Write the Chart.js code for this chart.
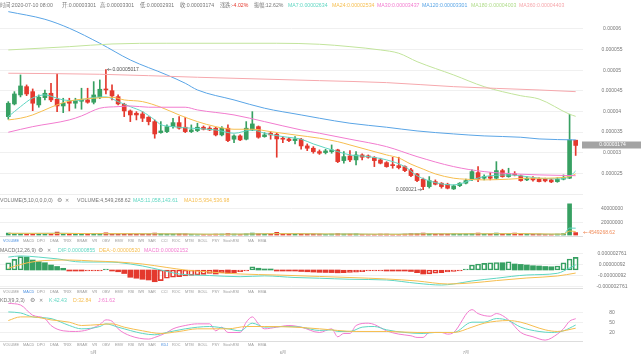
<!DOCTYPE html>
<html><head><meta charset="utf-8">
<script src="https://cdn.jsdelivr.net/npm/chart.js"></script>
<style>
html,body{margin:0;padding:0;background:#fff;}
#root{position:relative;width:641px;height:357px;overflow:hidden;font-family:"Liberation Sans","Noto Sans CJK SC",sans-serif;}
.t{position:absolute;font-size:5.2px;line-height:6px;white-space:nowrap;color:#777;}
.tab{position:absolute;font-size:3.8px;line-height:5px;white-space:nowrap;color:#9a9a9a;}
.pane{position:absolute;left:0;}
.sep{position:absolute;left:0;width:583px;height:1px;}
canvas{display:block;}
</style></head><body><div id="root">
<div class="pane" style="top:0"><canvas id="cMain" width="641" height="196"></canvas></div>
<div class="pane" style="top:201px"><canvas id="cVol" width="641" height="36"></canvas></div>
<div class="pane" style="top:251px"><canvas id="cMacd" width="641" height="38"></canvas></div>
<div class="pane" style="top:301px"><canvas id="cKdj" width="641" height="56"></canvas></div>
<div class="sep" style="top:194px;background:#eeeeee"></div>
<div class="sep" style="top:236px;background:#dddddd"></div>
<div class="sep" style="top:288px;background:#dddddd"></div>
<div class="sep" style="top:341px;background:#dddddd"></div>
</div>
<script>
// ---------- DATA ----------
const monthLabels = ['5月','6月','7月'];
const monthStarts = [14,45,75];

const open = [3873e-8,4181e-8,4399e-8,4600e-8,4479e-8,4157e-8,4334e-8,4440e-8,4295e-8,4132e-8,
4254e-8,4198e-8,4246e-8,4278e-8,4222e-8,4343e-8,4537e-8,4503e-8,4358e-8,4174e-8,
4011e-8,3955e-8,3938e-8,3858e-8,3752e-8,3485e-8,3509e-8,3630e-8,3727e-8,3616e-8,
3509e-8,3533e-8,3616e-8,3592e-8,3592e-8,3429e-8,3592e-8,3325e-8,3405e-8,3325e-8,
3550e-8,3630e-8,3388e-8,3470e-8,3446e-8,3349e-8,3332e-8,3291e-8,3325e-8,3162e-8,
3106e-8,3024e-8,3000e-8,3024e-8,3065e-8,2806e-8,2920e-8,2823e-8,2944e-8,2920e-8,
2878e-8,2823e-8,2757e-8,2701e-8,2684e-8,2660e-8,2580e-8,2483e-8,2355e-8,2175e-8,
2296e-8,2258e-8,2233e-8,2119e-8,2199e-8,2258e-8,2355e-8,2515e-8,2379e-8,2418e-8,
2379e-8,2563e-8,2418e-8,2483e-8,2435e-8,2338e-8,2379e-8,2355e-8,2355e-8,2338e-8,
2296e-8,2355e-8,2380e-8,3301e-8];
const high = [4237e-8,4479e-8,4884e-8,4642e-8,4545e-8,4399e-8,4520e-8,4683e-8,4909e-8,4319e-8,
4319e-8,4319e-8,4562e-8,4562e-8,4722e-8,4763e-8,5017e-8,4642e-8,4399e-8,4198e-8,
4035e-8,3994e-8,3994e-8,3873e-8,3793e-8,3752e-8,3672e-8,3834e-8,3873e-8,3858e-8,
3672e-8,3713e-8,3647e-8,3630e-8,3616e-8,3630e-8,3672e-8,3429e-8,3429e-8,3752e-8,
3994e-8,3647e-8,3485e-8,3509e-8,3470e-8,3388e-8,3373e-8,3388e-8,3349e-8,3211e-8,
3145e-8,3065e-8,3082e-8,3186e-8,3082e-8,3024e-8,3048e-8,3024e-8,2968e-8,2944e-8,
2903e-8,2864e-8,2781e-8,2888e-8,2888e-8,2677e-8,2621e-8,2500e-8,2379e-8,2418e-8,
2338e-8,2272e-8,2258e-8,2216e-8,2272e-8,2355e-8,2580e-8,2660e-8,2459e-8,2515e-8,
2781e-8,2597e-8,2621e-8,2539e-8,2459e-8,2418e-8,2418e-8,2386e-8,2380e-8,2360e-8,
2390e-8,2459e-8,3931e-8,3301e-8];
const low = [3810e-8,4157e-8,4351e-8,4382e-8,4018e-8,4101e-8,4278e-8,4237e-8,3994e-8,3970e-8,
4011e-8,4077e-8,4052e-8,4198e-8,4181e-8,4309e-8,4423e-8,4278e-8,4157e-8,3873e-8,
3752e-8,3793e-8,3752e-8,3672e-8,3349e-8,3470e-8,3485e-8,3592e-8,3567e-8,3485e-8,
3485e-8,3509e-8,3550e-8,3533e-8,3405e-8,3405e-8,3266e-8,3242e-8,3291e-8,3308e-8,
3533e-8,3349e-8,3373e-8,3325e-8,2888e-8,3242e-8,3266e-8,3211e-8,3082e-8,3048e-8,
2985e-8,2956e-8,2968e-8,2985e-8,2757e-8,2743e-8,2781e-8,2701e-8,2823e-8,2864e-8,
2660e-8,2726e-8,2645e-8,2621e-8,2604e-8,2539e-8,2418e-8,2296e-8,2100e-8,2140e-8,
2216e-8,2136e-8,2119e-8,2105e-8,2175e-8,2241e-8,2321e-8,2296e-8,2338e-8,2338e-8,
2355e-8,2403e-8,2403e-8,2435e-8,2306e-8,2321e-8,2306e-8,2290e-8,2290e-8,2270e-8,
2280e-8,2338e-8,2370e-8,2931e-8];
const close = [4198e-8,4423e-8,4617e-8,4423e-8,4198e-8,4343e-8,4440e-8,4278e-8,4132e-8,4198e-8,
4198e-8,4261e-8,4278e-8,4222e-8,4399e-8,4537e-8,4520e-8,4375e-8,4181e-8,4011e-8,
3914e-8,3914e-8,3834e-8,3752e-8,3453e-8,3526e-8,3630e-8,3727e-8,3592e-8,3509e-8,
3550e-8,3616e-8,3567e-8,3550e-8,3429e-8,3592e-8,3291e-8,3405e-8,3308e-8,3592e-8,
3696e-8,3373e-8,3429e-8,3429e-8,3332e-8,3325e-8,3291e-8,3332e-8,3162e-8,3106e-8,
3024e-8,2985e-8,3041e-8,3065e-8,2781e-8,2903e-8,2823e-8,2944e-8,2888e-8,2888e-8,
2806e-8,2743e-8,2660e-8,2684e-8,2636e-8,2563e-8,2442e-8,2321e-8,2175e-8,2321e-8,
2233e-8,2175e-8,2136e-8,2192e-8,2258e-8,2321e-8,2539e-8,2355e-8,2418e-8,2379e-8,
2563e-8,2418e-8,2483e-8,2459e-8,2321e-8,2379e-8,2338e-8,2296e-8,2313e-8,2289e-8,
2355e-8,2393e-8,3307e-8,3174e-8];
const volume = [3.5e6,3.0e6,3.2e6,3.0e6,3.3e6,2.8e6,3.0e6,2.6e6,5.2e6,2.2e6,
2.5e6,2.0e6,2.4e6,2.2e6,2.8e6,3.0e6,4.0e6,2.6e6,2.5e6,3.0e6,
2.4e6,2.0e6,2.2e6,2.0e6,3.5e6,2.5e6,2.0e6,2.2e6,2.5e6,2.4e6,
1.8e6,1.5e6,1.6e6,1.4e6,2.0e6,2.2e6,2.8e6,2.0e6,1.8e6,2.5e6,
3.6e6,3.0e6,2.0e6,1.8e6,4.8e6,2.5e6,2.2e6,1.8e6,2.6e6,2.2e6,
2.4e6,2.0e6,1.8e6,2.0e6,2.8e6,2.2e6,2.0e6,2.4e6,1.6e6,1.2e6,
1.8e6,2.0e6,2.2e6,1.5e6,1.8e6,2.2e6,2.8e6,3.0e6,3.5e6,2.8e6,
2.2e6,2.0e6,2.2e6,2.5e6,2.2e6,2.4e6,3.2e6,3.6e6,2.2e6,2.0e6,
3.8e6,3.2e6,2.5e6,3.8e6,2.6e6,2.2e6,1.8e6,2.0e6,1.8e6,1.6e6,
2.0e6,2.8e6,47.7e6,4549268.62];

// moving-average lines: [candle index, value]
const ma7 = [[0,3873e-8],[2,4115e-8],[4,4326e-8],[6,4399e-8],[8,4319e-8],[9,4278e-8],[11,4261e-8],[14,4339e-8],[16,4351e-8],[18,4237e-8],[20,4115e-8],[22,3994e-8],[24,3793e-8],[25,3680e-8],[27,3630e-8],[30,3592e-8],[34,3550e-8],[37,3470e-8],[40,3550e-8],[42,3470e-8],[45,3388e-8],[48,3325e-8],[50,3211e-8],[54,3024e-8],[56,2944e-8],[59,2903e-8],[62,2823e-8],[65,2660e-8],[67,2440e-8],[70,2272e-8],[73,2216e-8],[76,2338e-8],[78,2418e-8],[82,2459e-8],[85,2418e-8],[87,2379e-8],[90,2362e-8],[92,2418e-8],[93,2556e-8]];
const ma24 = [[0,3793e-8],[2,3834e-8],[4,3914e-8],[7,4101e-8],[9,4210e-8],[11,4278e-8],[14,4319e-8],[17,4343e-8],[19,4278e-8],[22,4237e-8],[25,4101e-8],[28,3914e-8],[31,3752e-8],[34,3630e-8],[37,3567e-8],[40,3567e-8],[43,3509e-8],[47,3429e-8],[51,3349e-8],[54,3266e-8],[56,3186e-8],[59,3065e-8],[62,2944e-8],[64,2870e-8],[66,2720e-8],[68,2600e-8],[70,2483e-8],[73,2379e-8],[75,2355e-8],[78,2338e-8],[82,2355e-8],[85,2379e-8],[87,2379e-8],[92,2418e-8],[93,2483e-8]];
const ma30 = [[0,3494e-8],[4,3630e-8],[10,3793e-8],[12,3890e-8],[15,4077e-8],[18,4115e-8],[20,4132e-8],[23,4101e-8],[29,4101e-8],[31,4035e-8],[37,3914e-8],[42,3752e-8],[48,3550e-8],[51,3470e-8],[56,3325e-8],[62,3145e-8],[67,2903e-8],[73,2660e-8],[78,2539e-8],[84,2476e-8],[87,2459e-8],[93,2440e-8]];
const ma120 = [[0,6420e-8],[6,6235e-8],[10,6017e-8],[15,5653e-8],[20,5248e-8],[26,4884e-8],[29,4683e-8],[31,4520e-8],[37,4278e-8],[42,4077e-8],[48,3914e-8],[51,3834e-8],[56,3713e-8],[62,3616e-8],[67,3526e-8],[73,3453e-8],[78,3405e-8],[84,3373e-8],[87,3332e-8],[93,3308e-8]];
const ma180 = [[0,5491e-8],[10,5571e-8],[17,5636e-8],[26,5653e-8],[37,5653e-8],[44,5653e-8],[51,5629e-8],[56,5571e-8],[61,5491e-8],[64,5411e-8],[67,5207e-8],[73,4884e-8],[78,4600e-8],[84,4380e-8],[87,4300e-8],[92,3931e-8],[93,3880e-8]];
const ma360 = [[0,4926e-8],[15,4901e-8],[31,4828e-8],[51,4746e-8],[62,4698e-8],[73,4600e-8],[87,4520e-8],[93,4479e-8]];

const volMa5 = [[0,3.2e6],[4,3.1e6],[8,3.4e6],[12,3.0e6],[16,2.7e6],[20,2.7e6],[24,2.6e6],[28,2.5e6],[32,1.9e6],[36,1.9e6],[40,2.4e6],[44,3.0e6],[48,2.9e6],[52,2.1e6],[56,2.4e6],[60,1.8e6],[64,1.9e6],[68,2.7e6],[72,2.6e6],[76,2.5e6],[80,2.8e6],[84,3.0e6],[88,2.0e6],[91,2.0e6],[92,11.2e6],[93,11058143.61]];
const volMa10 = [[0,3.3e6],[9,3.2e6],[14,2.8e6],[19,2.8e6],[24,2.5e6],[29,2.3e6],[34,1.9e6],[39,2.2e6],[44,2.8e6],[49,2.6e6],[54,2.2e6],[59,2.1e6],[64,1.9e6],[69,2.5e6],[74,2.5e6],[79,2.6e6],[84,2.8e6],[89,2.2e6],[91,2.1e6],[92,6.7e6],[93,5954536.98]];

const macdHist = [12.4e-7,18.2e-7,22.7e-7,22.0e-7,17e-7,14.1e-7,12.4e-7,8.5e-7,6e-7,2.9e-7,
-1e-7,-1.5e-7,-1.5e-7,-1.2e-7,-1.0e-7,-0.5e-7,1.5e-7,-0.5e-7,-3e-7,-6e-7,
-12.4e-7,-14e-7,-15.8e-7,-17e-7,-20e-7,-18.2e-7,-14e-7,-12.4e-7,-11.4e-7,-10.2e-7,
-9.2e-7,-8.5e-7,-7.5e-7,-6.0e-7,-6.8e-7,-5.0e-7,-5.6e-7,-4.5e-7,-3.0e-7,-1.0e-7,
5.6e-7,3e-7,1.5e-7,0.5e-7,-0.5e-7,-1e-7,-1.2e-7,-1.5e-7,-2.5e-7,-3e-7,
-3.5e-7,-4e-7,-4.2e-7,-4.4e-7,-4.8e-7,-4.4e-7,-4e-7,-3.5e-7,-3e-7,-1e-7,
-0.9e-7,-0.8e-7,-1.0e-7,-1.2e-7,-1.3e-7,-1.5e-7,-2.5e-7,-4.6e-7,-6.8e-7,-6.5e-7,
-5.6e-7,-4.6e-7,-3.4e-7,-2.5e-7,-1.5e-7,1e-7,8.5e-7,10.2e-7,11.4e-7,12.4e-7,
12.8e-7,12.4e-7,14.1e-7,10.2e-7,9.5e-7,8.5e-7,7.3e-7,6.8e-7,6.0e-7,5.5e-7,
6.8e-7,12.4e-7,18.7e-7,21.5e-7];
const macdDif = [[0,22e-7],[2,24e-7],[5,22e-7],[8,19e-7],[12,13.6e-7],[16,13.6e-7],[18,12.8e-7],[22,6.8e-7],[25,0],[28,-6.8e-7],[33,-9.4e-7],[38,-11.4e-7],[42,-10e-7],[47,-12.8e-7],[51,-14e-7],[56,-15.8e-7],[62,-17e-7],[67,-22.7e-7],[71,-25.6e-7],[73,-23.8e-7],[76,-18.7e-7],[80,-14e-7],[85,-8.5e-7],[90,-5.6e-7],[92,3.4e-7],[93,8.55e-7]];
const macdDea = [[0,2.9e-7],[3,12e-7],[6,16.2e-7],[10,17e-7],[14,15.3e-7],[18,13.6e-7],[22,10.2e-7],[26,4.3e-7],[29,0],[33,-3.4e-7],[38,-6.8e-7],[44,-8.5e-7],[51,-11e-7],[56,-12.8e-7],[62,-15.3e-7],[67,-18.7e-7],[72,-23.8e-7],[76,-22e-7],[80,-18e-7],[85,-13.6e-7],[90,-10.2e-7],[93,-5.2e-7]];

const kdjK = [[0,82],[2,79],[4,67],[7,62],[10,41],[12,31],[15,38],[16,46],[18,36],[22,17],[24,13],[26,20],[29,31],[33,38],[36,31],[38,25],[40,48],[42,36],[45,38],[48,36],[51,26],[53,28],[54,23],[56,23],[58,36],[60,38],[62,28],[65,20],[68,17],[70,20],[73,20],[76,51],[78,51],[80,62],[82,56],[84,36],[87,23],[89,20],[91,25],[93,42.43]];
const kdjD = [[0,56],[2,67],[4,67],[7,58],[10,51],[12,41],[15,44],[17,46],[19,36],[22,25],[25,17],[28,23],[31,31],[36,31],[39,38],[42,38],[47,36],[51,31],[57,23],[62,23],[67,20],[73,20],[76,36],[78,48],[82,56],[84,51],[88,28],[90,23],[93,32.84]];
const kdjJ = [[0,108],[2,103],[4,72],[6,62],[7,41],[9,25],[11,23],[13,28],[15,44],[16,58],[17,54],[18,31],[20,10],[23,0],[24,5],[26,20],[27,31],[29,41],[31,46],[33,46],[34,25],[35,36],[36,20],[38,20],[39,51],[40,67],[41,46],[42,31],[44,36],[46,41],[48,36],[51,20],[53,31],[54,7],[55,17],[56,17],[57,41],[59,48],[60,44],[62,25],[64,15],[66,10],[67,5],[68,5],[69,20],[71,20],[72,15],[73,20],[76,89],[77,77],[79,69],[80,77],[82,58],[84,20],[86,7],[88,-3],[90,15],[91,31],[92,54],[93,61.62]];

const priceTicks = [0.000025,0.00003,0.000035,0.00004,0.000045,0.00005,0.000055,0.00006];
const priceTickLabels = ['0.000025','0.00003','0.000035','0.00004','0.000045','0.00005','0.000055','0.00006'];
const volTicks = [20000000,40000000];
const volTickLabels = ['20000000','40000000'];
const macdTicks = [-2.761e-6,-0.92e-6,0.92e-6,2.761e-6];
const macdTickLabels = ['-0.000002761','-0.00000092','0.00000092','0.000002761'];
const kdjTicks = [20,50,80];
const kdjTickLabels = ['20','50','80'];

// ---------- STYLE ----------
const FONT='"Liberation Sans","Noto Sans CJK SC",sans-serif';
const GREEN='#37a062', RED='#e4392e';
const C7='#5fd6c2', C24='#f6be4f', C30='#f27ccf', C120='#5aa5e6', C180='#c2e49c', C360='#f6a8ad';
Chart.defaults.font.family=FONT;
Chart.defaults.font.size=5;
Chart.defaults.color='#777';
Chart.defaults.animation=false;
Chart.defaults.events=[];
Chart.defaults.plugins.legend.display=false;
Chart.defaults.plugins.tooltip.enabled=false;

const candleColor = close.map((c,i)=> c>=open[i] ? GREEN : RED);
const xAxis = () => ({type:'linear', min:-1.36, max:94.2, display:false, offset:false, grid:{display:false}});
function yAxis(min,max,ticks,labels,pad){
  return {position:'right', min, max, offset:false,
    grid:{color:'#f0f0f0', drawTicks:false}, border:{display:false},
    ticks:{padding:pad, crossAlign:'center', autoSkip:false, color:'#777', font:{size:5}, callback:(v,i)=>labels[i]},
    afterBuildTicks:s=>{s.ticks=ticks.map(v=>({value:v}));},
    afterFit:s=>{s.width=58; s.paddingTop=0; s.paddingBottom=0;}};
}
const line = (pairs,color,order=0)=>({type:'line', data:pairs.map(([x,y])=>({x,y})), borderColor:color, borderWidth:1, pointRadius:0, cubicInterpolationMode:'monotone', fill:false, order});

// ---------- MAIN ----------
const mainDeco = {id:'mainDeco', afterDatasetsDraw(chart){
  const {ctx, scales:{x,y}} = chart;
  let hi=0, lo=0, last=close.length-1;
  high.forEach((v,i)=>{if(v>high[hi]) hi=i;});
  low.forEach((v,i)=>{if(v<low[lo]) lo=i;});
  ctx.save();
  ctx.font='5px '+FONT; ctx.textBaseline='middle';
  ctx.fillStyle='#555'; ctx.strokeStyle='#555'; ctx.lineWidth=0.6;
  let px=x.getPixelForValue(hi), py=y.getPixelForValue(high[hi]);
  ctx.beginPath(); ctx.moveTo(px+1.5,py); ctx.lineTo(px+5.5,py);
  ctx.moveTo(px+1.5,py); ctx.lineTo(px+3,py-1.2); ctx.moveTo(px+1.5,py); ctx.lineTo(px+3,py+1.2); ctx.stroke();
  ctx.textAlign='left'; ctx.fillText(String(high[hi]), px+6.5, py);
  px=x.getPixelForValue(lo); py=y.getPixelForValue(low[lo]);
  ctx.beginPath(); ctx.moveTo(px-5.5,py); ctx.lineTo(px-1.5,py);
  ctx.moveTo(px-1.5,py); ctx.lineTo(px-3,py-1.2); ctx.moveTo(px-1.5,py); ctx.lineTo(px-3,py+1.2); ctx.stroke();
  ctx.textAlign='right'; ctx.fillText(String(low[lo]), px-6.5, py);
  // last price box
  py=y.getPixelForValue(close[last]);
  ctx.fillStyle='#a3a3a3'; ctx.fillRect(582, Math.round(py)-3.5, 59, 7);
  ctx.fillStyle='#fff'; ctx.textAlign='center'; ctx.fillText(String(close[last]), 612.5, Math.round(py));
  ctx.restore();
}};
new Chart(document.getElementById('cMain'), {
  type:'bar',
  data:{datasets:[
    line(ma360,C360), line(ma180,C180), line(ma120,C120), line(ma30,C30), line(ma24,C24), line(ma7,C7),
    {type:'bar', data:open.map((o,i)=>({x:i,y:[o,close[i]]})), backgroundColor:candleColor, barThickness:4, minBarLength:1, grouped:false, order:1},
    {type:'bar', data:open.map((o,i)=>({x:i,y:[low[i],high[i]]})), backgroundColor:candleColor, barThickness:1, grouped:false, order:2}
  ]},
  options:{responsive:false, devicePixelRatio:1, layout:{padding:{top:10,bottom:3,left:0,right:0}},
    scales:{x:xAxis(), y:yAxis(0.0000202,0.0000646,priceTicks,priceTickLabels,18.6)}},
  plugins:[mainDeco]
});

// ---------- VOLUME ----------
const volDeco = {id:'volDeco', afterDatasetsDraw(chart){
  const {ctx, scales:{y}} = chart; const last=volume.length-1;
  const py=y.getPixelForValue(volume[last]);
  ctx.save(); ctx.strokeStyle='#f08c5a'; ctx.fillStyle='#f08c5a'; ctx.lineWidth=0.6;
  ctx.beginPath(); ctx.moveTo(583.5,py); ctx.lineTo(587.5,py); ctx.moveTo(583.5,py); ctx.lineTo(585,py-1.1); ctx.moveTo(583.5,py); ctx.lineTo(585,py+1.1); ctx.stroke();
  ctx.font='5px '+FONT; ctx.textBaseline='middle'; ctx.textAlign='left'; ctx.fillText(String(volume[last]), 588.5, py);
  ctx.restore();
}};
new Chart(document.getElementById('cVol'), {
  type:'bar',
  data:{datasets:[
    line(volMa10,C24), line(volMa5,C7),
    {type:'bar', data:volume.map((v,i)=>({x:i,y:v})), backgroundColor:candleColor, barThickness:4, minBarLength:1, grouped:false, order:1}
  ]},
  options:{responsive:false, devicePixelRatio:1, layout:{padding:{top:1.5,bottom:1.5,left:0,right:0}},
    scales:{x:xAxis(), y:yAxis(0,49.8e6,volTicks,volTickLabels,17.9)}},
  plugins:[volDeco]
});

// ---------- MACD ----------
const macdUp = macdHist.map((v,i)=> v > (i? macdHist[i-1] : 0));
const macdCol = macdHist.map(v=> v>=0 ? GREEN : RED);
const macdFill = macdHist.map((v,i)=> macdUp[i] ? 'rgba(255,255,255,0)' : macdCol[i]);
const macdBorder = macdHist.map((v,i)=> macdUp[i] ? 1 : 0);
new Chart(document.getElementById('cMacd'), {
  type:'bar',
  data:{datasets:[
    line(macdDea,C24), line(macdDif,C7),
    {type:'bar', data:macdHist.map((v,i)=>({x:i,y:v})), backgroundColor:macdFill, borderColor:macdCol, borderWidth:macdBorder, borderSkipped:false, barThickness:5, minBarLength:1, grouped:false, order:1}
  ]},
  options:{responsive:false, devicePixelRatio:1, layout:{padding:{top:1,bottom:1,left:0,right:0}},
    scales:{x:xAxis(), y:yAxis(-3.066e-6,3.066e-6,macdTicks,macdTickLabels,13.6)}}
});

// ---------- KDJ ----------
const monthDeco = {id:'monthDeco', afterDraw(chart){
  const {ctx, scales:{x}} = chart;
  ctx.save(); ctx.font='4px '+FONT; ctx.fillStyle='#888'; ctx.textAlign='center'; ctx.textBaseline='middle';
  monthStarts.forEach((m,k)=>ctx.fillText(monthLabels[k], x.getPixelForValue(m), 52));
  ctx.restore();
}};
new Chart(document.getElementById('cKdj'), {
  type:'line',
  data:{datasets:[ line(kdjD,C24), line(kdjK,C7), line(kdjJ,C30) ]},
  options:{responsive:false, devicePixelRatio:1, layout:{padding:{top:1,bottom:14.6,left:0,right:0}},
    scales:{x:xAxis(), y:yAxis(-10,112,kdjTicks,kdjTickLabels,26.2)}},
  plugins:[monthDeco]
});

// ---------- TEXT ----------
const root=document.getElementById('root');
function txt(html,x,yc,color,cls){const d=document.createElement('div');d.className=cls||'t';d.innerHTML=html;d.style.left=x+'px';d.style.top=(yc-3)+'px';if(color)d.style.color=color;root.appendChild(d);return d;}
const header=[['时间:2020-07-10 08:00',0],['开:0.00003301',62],['高:0.00003301',100],['低:0.00002931',140],['收:0.00003174',180],['涨跌:<span style="color:'+RED+'">-4.02%</span>',220],['振幅:12.62%',254]];
header.forEach(([s,x])=>txt(s,x,4.5));
txt('MA7:0.00002634',288,4.5,C7); txt('MA24:0.00002534',332,4.5,C24); txt('MA30:0.00003437',377,4.5,C30);
txt('MA120:0.00003301',422,4.5,C120); txt('MA180:0.00004003',471,4.5,'#b0dc8a'); txt('MA360:0.00004403',519,4.5,C360);

function icons(gx,cx,yc){txt('⚙',gx,yc,'#888').style.fontSize='6px'; txt('✕',cx,yc,'#888');}
txt('VOLUME(5,10,0,0,0,0)',0,199.5); icons(57,65,199.5);
txt('VOLUME:4,549,268.62',77,199.5); txt('MA5:11,058,143.61',133,199.5,C7); txt('MA10:5,954,536.98',184,199.5,C24);
txt('MACD(12,26,9)',0,250); icons(38,47,250);
txt('DIF:0.00000855',58,250,C7); txt('DEA:-0.00000520',99,250,C24); txt('MACD:0.00002152',144,250,C30);
txt('KDJ(9,3,3)',0,300); icons(30,39,300);
txt('K:42.43',49,300,C7); txt('D:32.84',73,300,C24); txt('J:61.62',98,300,C30);

const tabLefts=[3,23,37,50,63,77,92,102,115,128,138,148,161,172,185,198,212,223,248,258];
function tabRow(yc, names, sel){names.forEach((n,i)=>{const d=txt(n,tabLefts[i],yc,n===sel?'#4a8fe0':null,'tab');d.style.top=(yc-2.5)+'px';});}
const tabsA=['VOLUME','MACD','DPO','DMA','TRIX','BRAR','VR','OBV','EMV','RSI','WR','SAR','CCI','ROC','MTM','BOLL','PSY','StochRSI','MA','EMA'];
const tabsB=['VOLUME','MACD','DPO','DMA','TRIX','BRAR','VR','OBV','EMV','RSI','WR','SAR','KDJ','ROC','MTM','BOLL','PSY','StochRSI','MA','EMA'];
tabRow(241.5,tabsA,'VOLUME'); tabRow(292.5,tabsA,'MACD'); tabRow(345.5,tabsB,'KDJ');
</script></body></html>
